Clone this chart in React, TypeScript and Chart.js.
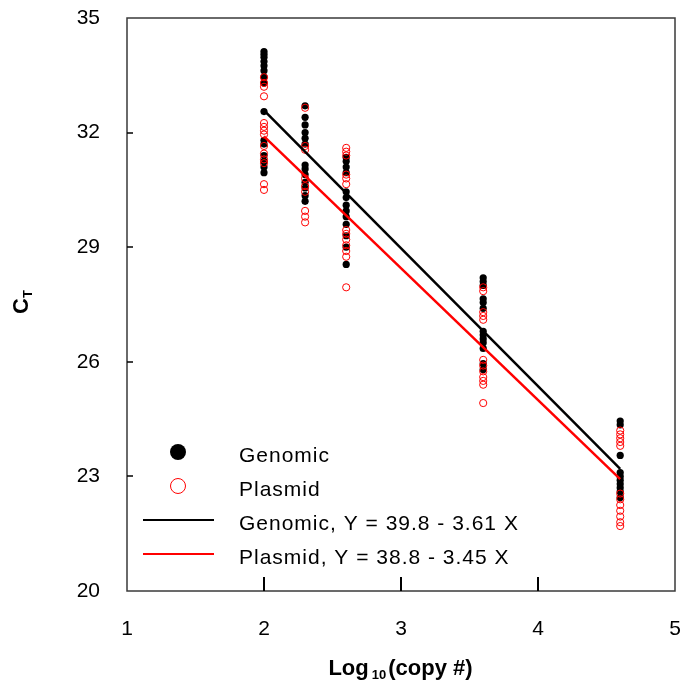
import React, { useEffect, useRef } from "react";
import { Chart, registerables } from "chart.js";

Chart.register(...registerables);

// Copy-number levels (log10)
const xLevels = [2, 2.3, 2.6, 3.6, 4.6];

// Genomic CT values at each level
const genomicAt2 = [34.12, 34.05, 33.97, 33.86, 33.75, 33.62, 33.45, 33.3, 32.55, 31.8, 31.7, 31.4, 31.25, 31.1, 30.95];
const genomicAt23 = [32.7, 32.4, 32.2, 32.0, 31.85, 31.7, 31.15, 31.05, 30.9, 30.7, 30.55, 30.35, 30.2];
const genomicAt26 = [31.35, 31.25, 31.1, 30.95, 30.45, 30.3, 30.1, 29.95, 29.8, 29.6, 29.3, 29.0, 28.55];
const genomicAt36 = [28.2, 28.1, 28.0, 27.65, 27.55, 27.4, 26.8, 26.7, 26.6, 26.5, 26.35, 25.95, 25.8];
const genomicAt46 = [24.45, 24.35, 23.55, 23.1, 23.0, 22.9, 22.8, 22.7, 22.6, 22.45];

// Plasmid CT values at each level
const plasmidAt2 = [33.45, 33.3, 33.2, 32.95, 32.25, 32.15, 32.05, 31.95, 31.65, 31.45, 31.3, 31.2, 30.65, 30.5];
const plasmidAt23 = [32.65, 31.65, 31.55, 30.8, 30.6, 30.45, 29.95, 29.8, 29.65];
const plasmidAt26 = [31.6, 31.5, 31.4, 30.9, 30.8, 30.65, 29.45, 29.35, 29.2, 29.05, 28.9, 28.75, 27.95];
const plasmidAt36 = [27.95, 27.85, 27.3, 27.2, 27.1, 26.05, 25.9, 25.75, 25.6, 25.5, 25.4, 24.92];
const plasmidAt46 = [24.2, 24.1, 24.0, 23.9, 23.8, 22.55, 22.4, 22.25, 22.1, 21.95, 21.8, 21.7];

const genomicCt = [genomicAt2, genomicAt23, genomicAt26, genomicAt36, genomicAt46];
const plasmidCt = [plasmidAt2, plasmidAt23, plasmidAt26, plasmidAt36, plasmidAt46];

// Regression fits
const genomicFit = { intercept: 39.8, slope: -3.61 };
const plasmidFit = { intercept: 38.8, slope: -3.45 };
const fitRange = [2, 4.6];

// Axis ticks
const xTicks = [1, 2, 3, 4, 5];
const yTicks = [20, 23, 26, 29, 32, 35];

const legendLabels = [
  "Genomic",
  "Plasmid",
  "Genomic, Y = 39.8 - 3.61 X",
  "Plasmid, Y = 38.8 - 3.45 X",
];

const FONT = "'Liberation Sans', Arial, Helvetica, sans-serif";

function toPoints(levels: number[], groups: number[][]) {
  const pts: { x: number; y: number }[] = [];
  groups.forEach((g, i) => g.forEach((v) => pts.push({ x: levels[i], y: v })));
  return pts;
}

function fitLine(fit: { intercept: number; slope: number }) {
  return fitRange.map((x) => ({ x, y: fit.intercept + fit.slope * x }));
}

function zeroPadding(s: any) {
  s.paddingTop = 0;
  s.paddingBottom = 0;
  s.paddingLeft = 0;
  s.paddingRight = 0;
}

const decorPlugin = {
  id: "decor",
  afterDraw(chart: any) {
    const { ctx, chartArea, scales } = chart;
    const { left, right, top, bottom } = chartArea;
    const xs = scales.x;
    const ys = scales.y;
    ctx.save();
    // frame
    ctx.strokeStyle = "#3a3a3a";
    ctx.lineWidth = 1.5;
    ctx.strokeRect(left, top, right - left, bottom - top);
    // inner ticks
    ctx.strokeStyle = "#000";
    ctx.lineWidth = 2;
    xTicks.slice(1, -1).forEach((v) => {
      const px = Math.round(xs.getPixelForValue(v));
      ctx.beginPath();
      ctx.moveTo(px, bottom);
      ctx.lineTo(px, bottom - 14);
      ctx.stroke();
    });
    ctx.lineWidth = 1.5;
    yTicks.slice(1, -1).forEach((v) => {
      const py = Math.round(ys.getPixelForValue(v));
      ctx.beginPath();
      ctx.moveTo(left, py);
      ctx.lineTo(left + 6, py);
      ctx.stroke();
    });

    // legend
    const ds = chart.data.datasets;
    const markX = 178;
    const textX = 239;
    const rowY = [452, 486, 520, 554];
    ctx.fillStyle = ds[0].backgroundColor;
    ctx.beginPath();
    ctx.arc(markX, rowY[0], 8, 0, Math.PI * 2);
    ctx.fill();
    ctx.strokeStyle = ds[1].borderColor;
    ctx.lineWidth = 1;
    ctx.beginPath();
    ctx.arc(markX, rowY[1], 7.5, 0, Math.PI * 2);
    ctx.stroke();
    [2, 3].forEach((i) => {
      ctx.strokeStyle = ds[i].borderColor;
      ctx.lineWidth = 2;
      ctx.beginPath();
      ctx.moveTo(143, rowY[i]);
      ctx.lineTo(214, rowY[i]);
      ctx.stroke();
    });
    ctx.fillStyle = "#000";
    ctx.font = `21px ${FONT}`;
    (ctx as any).letterSpacing = "1px";
    ctx.textAlign = "left";
    ctx.textBaseline = "alphabetic";
    legendLabels.forEach((t, i) => {
      ctx.fillText(t, textX, rowY[i] + 10);
    });
    (ctx as any).letterSpacing = "0px";

    // x title: Log10(copy #)
    const cx = (left + right) / 2;
    const big = `bold 22px ${FONT}`;
    const small = `bold 13px ${FONT}`;
    ctx.font = big;
    const w1 = ctx.measureText("Log ").width;
    const w3 = ctx.measureText("(copy #)").width;
    ctx.font = small;
    const w2 = ctx.measureText("10").width;
    const total = w1 + w2 + w3;
    const x0 = cx - total / 2;
    const base = 675;
    ctx.font = big;
    ctx.fillText("Log ", x0, base);
    ctx.font = small;
    ctx.fillText("10", x0 + w1 - 3, base + 4);
    ctx.font = big;
    ctx.fillText("(copy #)", x0 + w1 + w2 - 1, base);

    // y title: C_T
    ctx.save();
    ctx.translate(28, 302);
    ctx.rotate(-Math.PI / 2);
    ctx.font = big;
    const wc = ctx.measureText("C").width;
    ctx.font = small;
    const wt = ctx.measureText("T").width;
    const tw = wc + wt;
    ctx.font = big;
    ctx.fillText("C", -tw / 2, 0);
    ctx.font = small;
    ctx.fillText("T", -tw / 2 + wc, 4);
    ctx.restore();

    ctx.restore();
  },
};

export default function App() {
  const ref = useRef<HTMLCanvasElement | null>(null);
  useEffect(() => {
    if (!ref.current) return;
    const chart = new Chart(ref.current, {
      type: "scatter",
      data: {
        datasets: [
          {
            label: "Genomic",
            data: toPoints(xLevels, genomicCt),
            backgroundColor: "#000000",
            borderColor: "#000000",
            borderWidth: 0,
            pointRadius: 3.6,
            order: 3,
          },
          {
            label: "Plasmid",
            data: toPoints(xLevels, plasmidCt),
            backgroundColor: "rgba(0,0,0,0)",
            borderColor: "#ff0000",
            borderWidth: 1,
            pointRadius: 3.6,
            order: 2,
          },
          {
            label: "Genomic fit",
            type: "line",
            data: fitLine(genomicFit),
            borderColor: "#000000",
            backgroundColor: "#000000",
            borderWidth: 2.5,
            pointRadius: 0,
            showLine: true,
            order: 1,
          } as any,
          {
            label: "Plasmid fit",
            type: "line",
            data: fitLine(plasmidFit),
            borderColor: "#ff0000",
            backgroundColor: "#ff0000",
            borderWidth: 2.5,
            pointRadius: 0,
            showLine: true,
            order: 0,
          } as any,
        ],
      },
      options: {
        responsive: false,
        animation: false,
        devicePixelRatio: 1,
        layout: { padding: { top: 18, right: 7, left: 0, bottom: 0 } },
        plugins: {
          legend: { display: false },
          tooltip: { enabled: false },
        },
        scales: {
          x: {
            type: "linear",
            min: 1,
            max: 5,
            afterFit: (s: any) => {
              s.height = 93;
              zeroPadding(s);
            },
            afterBuildTicks: (s: any) => {
              s.ticks = xTicks.map((v) => ({ value: v }));
            },
            grid: { display: false, drawTicks: false },
            border: { display: false },
            ticks: {
              padding: 26,
              color: "#000",
              font: { family: FONT, size: 21 },
              maxRotation: 0,
            },
          },
          y: {
            type: "linear",
            min: 20,
            max: 35,
            afterFit: (s: any) => {
              s.width = 127;
              zeroPadding(s);
            },
            afterBuildTicks: (s: any) => {
              s.ticks = yTicks.map((v) => ({ value: v }));
            },
            grid: { display: false, drawTicks: false },
            border: { display: false },
            ticks: {
              padding: 27,
              color: "#000",
              font: { family: FONT, size: 21 },
            },
          },
        },
      },
      plugins: [decorPlugin],
    } as any);
    return () => chart.destroy();
  }, []);

  return (
    <div style={{ position: "absolute", left: 0, top: 0, width: 682, height: 684, background: "#fff" }}>
      <canvas ref={ref} width={682} height={684} style={{ display: "block" }} />
    </div>
  );
}
